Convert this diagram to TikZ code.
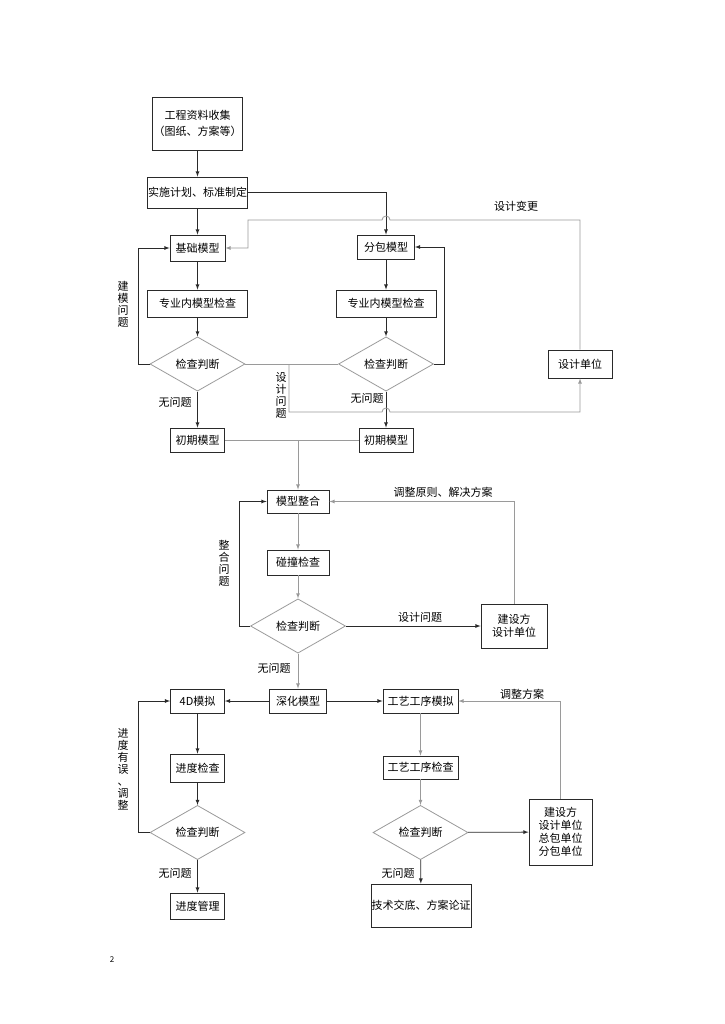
\documentclass[tikz,border=0pt]{standalone}
\usepackage{fontspec}
\setmainfont{Noto Sans CJK SC}
\usepackage{xcolor}
\definecolor{edge}{HTML}{2A2A2A}
\definecolor{faint}{HTML}{9A9A9A}
\usetikzlibrary{shapes.geometric}

\begin{document}
\begin{tikzpicture}[x=1pt, y=-1pt, >=latex, font=\fontsize{11}{13}\selectfont,
  box/.style={draw=edge, line width=.8pt, inner sep=0pt, align=center},
  judge/.style={diamond, draw=faint, line width=.8pt, inner sep=0pt, minimum width=95pt, minimum height=46pt},
  flow/.style={->, line width=.8pt, edge},
  soft/.style={line width=.8pt, faint},
  vtext/.style={align=center, inner sep=0pt, font=\fontsize{11}{12}\selectfont}]
\useasboundingbox (0,0) rectangle (724,1024);

% upper part
\node [box, minimum width=90pt, minimum height=53pt, font=\fontsize{11}{16}\selectfont] (collect) at (197.5,123.5) {工程资料收集\\（图纸、方案等）};
\node [box, minimum width=100pt, minimum height=31pt] (plan) at (197.5,192.5) {实施计划、标准制定};
\node [box, minimum width=55pt, minimum height=26pt] (base) at (197.5,248) {基础模型};
\node [box, minimum width=57pt, minimum height=24pt] (sub) at (386,247) {分包模型};
\node [box, minimum width=100pt, minimum height=27pt] (chkL) at (197.5,303.5) {专业内模型检查};
\node [box, minimum width=100pt, minimum height=27pt] (chkR) at (386,303.5) {专业内模型检查};
\node [judge] (diaL) at (197.5,364) {检查判断};
\node [judge] (diaR) at (386,364) {检查判断};
\node [box, minimum width=64pt, minimum height=28pt] (unit) at (580,364) {设计单位};
\node [box, minimum width=54pt, minimum height=24pt] (earlyL) at (197.5,440) {初期模型};
\node [box, minimum width=54pt, minimum height=24pt] (earlyR) at (386,440) {初期模型};

\draw [flow] (collect) -- (plan);
\draw [flow] (plan) -- (base);
\draw [flow] (plan.east) -| (sub.north);
\draw [flow] (base) -- (chkL);
\draw [flow] (chkL) -- (diaL);
\draw [flow] (diaL) -- (earlyL);
\draw [flow] (sub) -- (chkR);
\draw [flow] (chkR) -- (diaR);
\draw [flow] (diaR) -- (earlyR);
\draw [flow] (diaL.west) -- (138,364) |- (base.west);
\draw [flow] (diaR.east) -- (444,364) |- (sub.east);
\draw [soft, ->] (unit.north) -- (580,220) -- (390,220) arc [start angle=0, end angle=-180, radius=4] -- (248,220) |- (base.east);
\draw [soft] (diaL.east) -- (diaR.west);
\coordinate (split) at (289,364);
\draw [soft, ->] (split) -- (289,412) -- (382,412) arc [start angle=180, end angle=360, radius=4] -- (580,412) -- (unit.south);

\node (changenote) at (516,206) {设计变更};
\node [vtext] (modelnote) at (123,304) {建\\模\\问\\题};
\node [vtext] (designnote) at (281,395) {设\\计\\问\\题};
\node (okL) at (175,402) {无问题};
\node (okR) at (367,398) {无问题};

% middle part
\node [box, minimum width=62pt, minimum height=23pt] (integ) at (298,501.5) {模型整合};
\node [box, minimum width=62pt, minimum height=25pt] (clash) at (298,562.5) {碰撞检查};
\node [judge] (diaM) at (298,626) {检查判断};
\node [box, minimum width=66pt, minimum height=44pt] (owner1) at (514,626) {建设方\\设计单位};
\node [box, minimum width=57pt, minimum height=24pt] (deep) at (298,701) {深化模型};

\draw [soft] (earlyL) -- (earlyR);
\coordinate (join) at (298,440);
\draw [soft, ->] (join) -- (integ);
\draw [soft, ->] (integ) -- (clash);
\draw [soft, ->] (clash) -- (diaM);
\draw [soft, ->] (diaM) -- (deep);
\draw [flow] (diaM.west) -- (239,626) |- (integ.west);
\draw [flow] (diaM) -- (owner1);
\draw [soft, ->] (owner1.north) |- (integ.east);

\node (fixnote) at (443,492) {调整原则、解决方案};
\node (issuenote) at (420,617) {设计问题};
\node [vtext] (mergenote) at (224,563) {整\\合\\问\\题};
\node (okM) at (274,668) {无问题};

% lower part
\node [box, minimum width=54pt, minimum height=24pt] (sim4d) at (197.5,701) {4D模拟};
\node [box, minimum width=75pt, minimum height=24pt] (proc) at (420.5,701) {工艺工序模拟};
\node [box, minimum width=54pt, minimum height=28pt] (prog) at (197.5,768) {进度检查};
\node [box, minimum width=75pt, minimum height=23pt] (procchk) at (420.5,767.5) {工艺工序检查};
\node [judge] (diaBL) at (197.5,832.5) {检查判断};
\node [judge] (diaBR) at (420.5,832.5) {检查判断};
\node [box, minimum width=63pt, minimum height=66pt] (owner2) at (560.5,832) {建设方\\设计单位\\总包单位\\分包单位};
\node [box, minimum width=54pt, minimum height=26pt] (mgmt) at (197.5,906) {进度管理};
\node [box, minimum width=100pt, minimum height=43pt] (tech) at (421,905.5) {技术交底、方案论证};

\draw [flow] (deep) -- (sim4d);
\draw [flow] (deep) -- (proc);
\draw [flow] (sim4d) -- (prog);
\draw [flow] (prog) -- (diaBL);
\draw [flow] (diaBL) -- (mgmt);
\draw [flow] (diaBL.west) -- (138,832.5) |- (sim4d.west);
\draw [soft, ->] (proc) -- (procchk);
\draw [soft, ->] (procchk) -- (diaBR);
\draw [flow] (diaBR) -- (tech);
\draw [flow] (diaBR) -- (owner2);
\draw [soft, ->] (owner2.north) |- (proc.east);

\node (plannote) at (522,694) {调整方案};
\node [vtext] (prognote) at (123,769) {进\\度\\有\\误\\、\\调\\整};
\node (okBL) at (175,873) {无问题};
\node (okBR) at (398,873) {无问题};

\node [font=\fontsize{8}{9}\selectfont] (pageno) at (112,960) {2};
\end{tikzpicture}
\end{document}
